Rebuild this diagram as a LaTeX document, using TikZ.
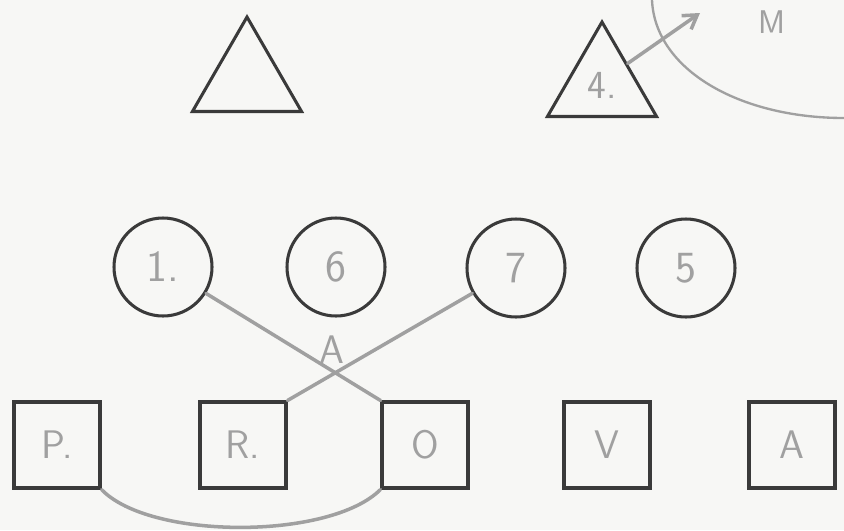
\documentclass[tikz,border=0pt]{standalone}
\usepackage{xcolor}
\usepackage{tikz}
\usetikzlibrary{arrows.meta,shapes.geometric}
\definecolor{paperwhite}{RGB}{247,247,245}
\definecolor{inkgrey}{RGB}{58,58,58}
\definecolor{pencilgrey}{RGB}{160,160,160}
\tikzset{
  player/.style={circle,draw=inkgrey,line width=2.6pt,minimum size=29.4mm,
    inner sep=0pt,text=pencilgrey,font=\sffamily\fontsize{38}{38}\selectfont},
  lineman/.style={rectangle,draw=inkgrey,line width=2.6pt,minimum size=25.8mm,
    inner sep=0pt,text=pencilgrey,font=\sffamily\fontsize{34}{34}\selectfont},
  back/.style={regular polygon,regular polygon sides=3,draw=inkgrey,
    line width=2.6pt,minimum size=37.8mm,inner sep=0pt,text=pencilgrey,
    font=\sffamily\fontsize{34}{34}\selectfont},
  pencil/.style={draw=pencilgrey,line width=3pt,line cap=round},
  scrawl/.style={text=pencilgrey,font=\sffamily\fontsize{34}{34}\selectfont}
}

\begin{document}
\begin{tikzpicture}[x=0.3mm,y=-0.3mm]
  \fill[paperwhite] (0,0) rectangle (844,530);
  \useasboundingbox (0,0) rectangle (844,530);
  % backs
  \node[back] (tleft) at (247,80) {};
  \node[back] (tright) at (602,85) {4.};
  % middle row
  \node[player] (c1) at (163,267) {1.};
  \node[player] (c6) at (336,267) {6};
  \node[player] (c7) at (516,268) {7};
  \node[player] (c5) at (686,268) {5};
  % front row
  \node[lineman] (p) at (57,445) {P.};
  \node[lineman] (r) at (243,445) {R.};
  \node[lineman] (o) at (425,445) {O};
  \node[lineman] (v) at (607,445) {V};
  \node[lineman] (a) at (792,445) {A};
  % pencil marks
  \node[scrawl] (cross) at (332,350) {A};
  \node[scrawl,font=\sffamily\fontsize{28}{28}\selectfont] (topm) at (772,22) {M};
  \coordinate (tip) at (700,13);
  \draw[pencil] (c1) -- (o.north west);
  \draw[pencil] (c7) -- (r.north east);
  \draw[pencil] (p.south east) .. controls (150,540) and (330,540) .. (o.south west);
  \draw[pencil,-{Straight Barb[length=4mm,width=5mm]}] (tright.40) -- (tip);
  \draw[pencil,line width=2pt] (652,0) .. controls (655,70) and (740,118) .. (844,118);
\end{tikzpicture}
\end{document}
